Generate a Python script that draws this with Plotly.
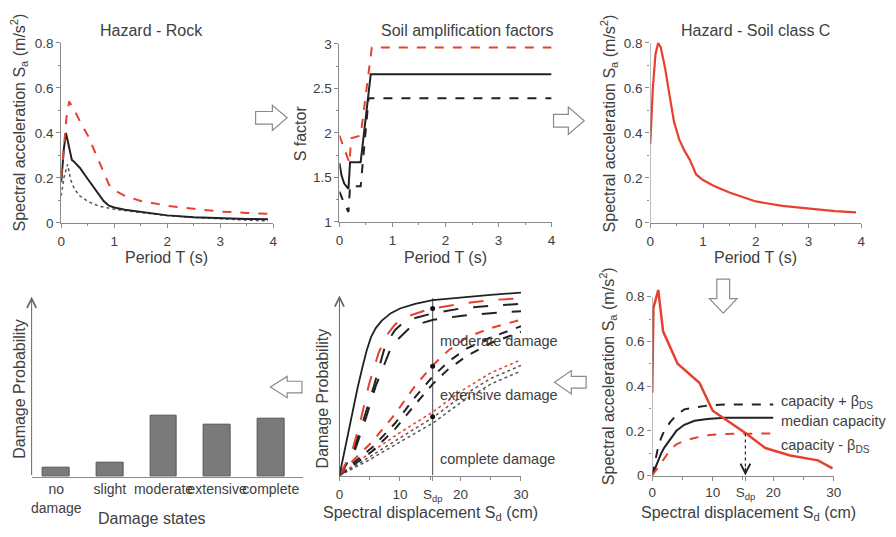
import plotly.graph_objects as go

# ---------------- data ----------------
# Panel 1: Hazard - Rock
T_rock_red = [0, 0.05, 0.1, 0.15, 0.25, 0.4, 0.5, 0.7, 0.9, 1.0, 1.2, 1.5, 2.0, 2.5, 3.0, 3.5, 3.9]
Sa_rock_red = [0.2, 0.33, 0.47, 0.54, 0.50, 0.43, 0.39, 0.28, 0.17, 0.145, 0.12, 0.097, 0.076, 0.062, 0.05, 0.044, 0.04]
T_rock_med = [0, 0.05, 0.09, 0.15, 0.2, 0.25, 0.35, 0.5, 0.65, 0.8, 0.9, 1.0, 1.2, 1.5, 2.0, 2.5, 3.0, 3.5, 3.9]
Sa_rock_med = [0.18, 0.33, 0.40, 0.34, 0.28, 0.27, 0.245, 0.195, 0.144, 0.097, 0.076, 0.068, 0.058, 0.048, 0.033, 0.025, 0.02, 0.017, 0.016]
T_rock_low = [0, 0.05, 0.12, 0.18, 0.25, 0.35, 0.5, 0.7, 1.0, 1.5, 2.0, 2.5, 3.0, 3.5, 3.9]
Sa_rock_low = [0.12, 0.2, 0.26, 0.19, 0.15, 0.12, 0.095, 0.075, 0.06, 0.045, 0.032, 0.024, 0.017, 0.012, 0.008]

# Panel 2: Soil amplification factors
T_s_med = [0, 0.04, 0.09, 0.17, 0.2, 0.4, 0.59, 4.0]
S_med = [1.66, 1.52, 1.43, 1.37, 1.67, 1.67, 2.66, 2.66]
T_s_high = [0, 0.19, 0.22, 0.4, 0.61, 4.0]
S_high = [1.97, 1.66, 1.94, 1.97, 2.96, 2.96]
T_s_low = [0, 0.08, 0.17, 0.2, 0.4, 0.55, 4.0]
S_low = [1.34, 1.22, 1.11, 1.40, 1.40, 2.39, 2.39]

# Panel 3: Hazard - Soil class C
T_soil = [0, 0.05, 0.1, 0.15, 0.2, 0.28, 0.35, 0.45, 0.55, 0.65, 0.75, 0.87, 1.0, 1.2, 1.5, 2.0, 2.5, 3.0, 3.5, 3.9]
Sa_soil = [0.35, 0.6, 0.75, 0.80, 0.78, 0.69, 0.59, 0.45, 0.37, 0.32, 0.28, 0.215, 0.19, 0.165, 0.135, 0.095, 0.075, 0.062, 0.052, 0.046]

# Panel 4: damage states
damage_states = ["no<br>damage", "slight", "moderate", "extensive", "complete"]
damage_prob = [0.05, 0.076, 0.34, 0.29, 0.32]

# Panel 5: fragility curves
sdp = 15.4
sd_slight = [0, 1, 2, 3, 3.8, 4.5, 5.2, 6, 7, 8.5, 10, 12.5, 15.4, 20, 25, 30]
p_slight = [0, 0.16, 0.32, 0.47, 0.58, 0.67, 0.74, 0.79, 0.83, 0.87, 0.895, 0.92, 0.94, 0.955, 0.968, 0.98]
sd_mod_r = [0, 2.1, 3.6, 4.9, 6.5, 8, 9.2, 11, 14.7, 20, 25, 30]
p_mod_r = [0, 0.13, 0.31, 0.49, 0.66, 0.76, 0.81, 0.85, 0.89, 0.92, 0.94, 0.95]
sd_mod_b1 = [0, 2.3, 4.0, 5.7, 7.6, 9.2, 10.9, 15.5, 20, 25, 30]
p_mod_b1 = [0, 0.13, 0.30, 0.48, 0.70, 0.78, 0.83, 0.87, 0.895, 0.91, 0.92]
sd_mod_b2 = [0, 2.5, 4.3, 6.0, 8.7, 11.9, 15.5, 20, 25, 30]
p_mod_b2 = [0, 0.13, 0.30, 0.48, 0.70, 0.80, 0.835, 0.855, 0.87, 0.88]
sd_ext = [0, 1.6, 5.4, 9.2, 12.5, 15.4, 18, 21, 25, 30]
p_ext_r = [0, 0.06, 0.18, 0.33, 0.48, 0.59, 0.67, 0.74, 0.79, 0.835]
p_ext_b1 = [0, 0.05, 0.15, 0.28, 0.42, 0.53, 0.61, 0.68, 0.74, 0.80]
p_ext_b2 = [0, 0.04, 0.13, 0.25, 0.38, 0.49, 0.57, 0.64, 0.71, 0.77]
sd_com = [0, 5, 10, 15.4, 20, 25, 30]
p_com_r = [0, 0.12, 0.23, 0.34, 0.45, 0.55, 0.62]
p_com_b1 = [0, 0.10, 0.20, 0.31, 0.42, 0.52, 0.59]
p_com_b2 = [0, 0.085, 0.18, 0.28, 0.39, 0.49, 0.56]
dots_p = [0.895, 0.585, 0.315]
frag_labels = ["moderate damage", "extensive damage", "complete damage"]
frag_label_y = [0.72, 0.43, 0.09]

# Panel 6: demand vs capacity
demand_sd = [0, 0.2, 1.0, 1.8, 4.2, 7.8, 10, 11.9, 15.4, 18.7, 22.8, 27.4, 29.8]
demand_sa = [0.37, 0.75, 0.83, 0.645, 0.50, 0.415, 0.29, 0.256, 0.19, 0.123, 0.09, 0.068, 0.032]
cap_sd = [0, 0.5, 1, 1.5, 2, 3, 4, 5.3, 7, 9.1, 12, 20]
cap_med = [0, 0.035, 0.07, 0.1, 0.125, 0.165, 0.2, 0.227, 0.245, 0.253, 0.258, 0.258]
cap_plus = [0, 0.07, 0.13, 0.17, 0.2, 0.24, 0.27, 0.296, 0.305, 0.313, 0.318, 0.318]
cap_minus = [0, 0.02, 0.04, 0.06, 0.08, 0.115, 0.14, 0.155, 0.168, 0.18, 0.186, 0.188]
cap_labels = ["capacity + β<sub>DS</sub>", "median capacity", "capacity - β<sub>DS</sub>"]

# ---------------- styling ----------------
W, H = 896, 537
FONT = "Arial, 'Liberation Sans', sans-serif"
TXT = "#404040"
AX = "#8a8a8a"
RED = "#e8402e"
BLK = "#222222"
GRY = "#555555"


def px(x):
    return x / W


def py(y):
    return 1 - y / H


fig = go.Figure()


def line(x, y, ax, color, width, dash="solid"):
    fig.add_trace(go.Scatter(x=x, y=y, mode="lines", xaxis="x" + ax, yaxis="y" + ax,
                             line=dict(color=color, width=width, dash=dash),
                             showlegend=False, hoverinfo="skip"))


# Panel 1
line(T_rock_low, Sa_rock_low, "", GRY, 1.5, "dot")
line(T_rock_med, Sa_rock_med, "", BLK, 2)
line(T_rock_red, Sa_rock_red, "", RED, 2, "dash")
# Panel 2
line(T_s_low, S_low, "2", BLK, 2, "dash")
line(T_s_med, S_med, "2", BLK, 2)
line(T_s_high, S_high, "2", RED, 2, "dash")
# Panel 3
line(T_soil, Sa_soil, "3", RED, 2.2)
# Panel 4 bars
fig.add_trace(go.Bar(x=list(range(len(damage_states))), y=damage_prob, xaxis="x4", yaxis="y4",
                     width=0.5, marker=dict(color="#7a7a7a", line=dict(color="#555", width=1)),
                     showlegend=False, hoverinfo="skip"))
# Panel 5
line([sdp, sdp], [0, 0.95], "5", "#666", 1.2)
line(sd_com, p_com_b2, "5", GRY, 1.5, "dot")
line(sd_com, p_com_b1, "5", GRY, 1.5, "dot")
line(sd_com, p_com_r, "5", RED, 1.5, "dot")
line(sd_ext, p_ext_b2, "5", BLK, 2, "dash")
line(sd_ext, p_ext_b1, "5", BLK, 2, "dash")
line(sd_ext, p_ext_r, "5", RED, 2, "dash")
line(sd_mod_b2, p_mod_b2, "5", BLK, 2, "longdash")
line(sd_mod_b1, p_mod_b1, "5", BLK, 2, "longdash")
line(sd_mod_r, p_mod_r, "5", RED, 2, "longdash")
line(sd_slight, p_slight, "5", BLK, 1.8)
fig.add_trace(go.Scatter(x=[sdp] * len(dots_p), y=dots_p, mode="markers", xaxis="x5", yaxis="y5",
                         marker=dict(color="#111", size=5), showlegend=False, hoverinfo="skip"))
# Panel 6
line(cap_sd, cap_plus, "6", BLK, 2, "dash")
line(cap_sd, cap_med, "6", BLK, 2)
line(cap_sd, cap_minus, "6", RED, 2, "dash")
line(demand_sd, demand_sa, "6", RED, 2.5)
line([sdp, sdp], [cap_minus[-1], 0.01], "6", BLK, 1.2, "dot")

# ---------------- axes ----------------
base = dict(showline=True, linecolor=AX, linewidth=1, ticks="outside", ticklen=4, tickcolor=AX,
            showgrid=False, zeroline=False, tickfont=dict(size=13.5, color=TXT, family=FONT))


def ax(**kw):
    d = dict(base)
    d.update(kw)
    return d


layout = dict(
    width=W, height=H, margin=dict(l=0, r=0, t=0, b=0),
    paper_bgcolor="white", plot_bgcolor="white", font=dict(family=FONT, color=TXT),
    bargap=0,
    xaxis=ax(domain=[px(58), px(273)], range=[0, 4], anchor="y", tickvals=[0, 1, 2, 3, 4],
             ticklabelstandoff=2,
             minor=dict(dtick=0.5, ticks="outside", ticklen=2.5, tickcolor=AX)),
    yaxis=ax(domain=[py(222), py(37)], range=[0, 0.8], anchor="x", tickvals=[0, 0.2, 0.4, 0.6, 0.8],
             ticktext=["0", "0.2", "0.4", "0.6", "0.8"],
             minor=dict(dtick=0.1, ticks="outside", ticklen=2.5, tickcolor=AX)),
    xaxis2=ax(domain=[px(340), px(555)], range=[0, 4], anchor="y2", tickvals=[0, 1, 2, 3, 4],
              ticklabelstandoff=2,
              minor=dict(dtick=0.5, ticks="outside", ticklen=2.5, tickcolor=AX)),
    yaxis2=ax(domain=[py(221), py(38)], range=[1, 3], anchor="x2", tickvals=[1, 1.5, 2, 2.5, 3],
              minor=dict(dtick=0.25, ticks="outside", ticklen=2.5, tickcolor=AX)),
    xaxis3=ax(domain=[px(655), px(869)], range=[0, 4], anchor="y3", tickvals=[0, 1, 2, 3, 4],
              ticklabelstandoff=2,
              minor=dict(dtick=0.5, ticks="outside", ticklen=2.5, tickcolor=AX)),
    yaxis3=ax(domain=[py(222), py(222 - 0.82 * 231.25)], range=[0, 0.82], anchor="x3", showline=False,
              tickvals=[0, 0.2, 0.4, 0.6, 0.8], ticktext=["0", "0.2", "0.4", "0.6", "0.8"],
              minor=dict(tickvals=[0.1, 0.3, 0.5, 0.7], ticks="outside", ticklen=2.5, tickcolor=AX)),
    xaxis4=ax(domain=[px(28), px(303)], range=[-0.46, 4.6], anchor="y4", ticks="", tickangle=0,
              tickvals=list(range(len(damage_states))), ticktext=damage_states,
              tickfont=dict(size=14, color=TXT, family=FONT)),
    yaxis4=ax(domain=[py(483), py(298)], range=[0, 1], anchor="x4", showline=False, ticks="",
              showticklabels=False),
    xaxis5=ax(domain=[px(340), px(524)], range=[0, 30], anchor="y5", tickvals=[0, 10, sdp, 20, 30],
              ticktext=["0", "10", "S<sub>dp</sub>", "20", "30"], tickangle=0, ticklabelstandoff=2,
              minor=dict(dtick=5, ticks="outside", ticklen=3, tickcolor=AX)),
    yaxis5=ax(domain=[py(482), py(290)], range=[0, 1], anchor="x5", showline=False, ticks="",
              showticklabels=False),
    xaxis6=ax(domain=[px(657), px(841)], range=[0, 30], anchor="y6", tickvals=[0, 10, sdp, 20, 30],
              ticktext=["0", "10", "S<sub>dp</sub>", "20", "30"], tickangle=0,
              minor=dict(dtick=5, ticks="outside", ticklen=3, tickcolor=AX)),
    yaxis6=ax(domain=[py(482), py(482 - 0.85 * 230)], range=[0, 0.85], anchor="x6", showline=False,
              tickvals=[0, 0.2, 0.4, 0.6, 0.8], ticktext=["0", "0.2", "0.4", "0.6", "0.8"],
              minor=dict(tickvals=[0.1, 0.3, 0.5, 0.7], ticks="outside", ticklen=2.5, tickcolor=AX)),
)
fig.update_layout(**layout)

# manual y-axis lines
fig.add_shape(type="line", xref="x3", yref="y3", x0=0, x1=0, y0=0, y1=0.8, line=dict(color=AX, width=1))
fig.add_shape(type="line", xref="x6", yref="y6", x0=0, x1=0, y0=0, y1=0.8, line=dict(color=AX, width=1))

ann = []


def text(x, y, s, size=16, angle=0, xanchor="center", xref="paper", yref="paper"):
    ann.append(dict(x=x, y=y, xref=xref, yref=yref, text=s, showarrow=False, textangle=angle,
                    xanchor=xanchor, yanchor="middle", font=dict(size=size, color=TXT, family=FONT)))


# titles
text(px(150), py(24), "Hazard - Rock")
text(px(470), py(24), "Soil amplification factors")
text(px(762), py(24), "Hazard - Soil class C")
# axis titles
SA = "Spectral acceleration S<sub>a</sub> (m/s<sup>2</sup>)"
SD = "Spectral displacement S<sub>d</sub> (cm)"
text(px(15), py(119), SA, angle=-90)
text(px(165), py(258), "Period T (s)")
text(px(300), py(130), "S factor", angle=-90)
text(px(447), py(258), "Period T (s)")
text(px(613), py(120), SA, angle=-90)
text(px(762), py(258), "Period T (s)")
text(px(15), py(393), "Damage Probability", angle=-90)
text(px(150), py(526), "Damage states")
text(px(323), py(403), "Damage Probability", angle=-90)
text(px(432), py(521), SD)
text(px(613), py(380), SA, angle=-90)
text(px(755), py(521), SD)

# fragility labels
for lab, yv in zip(frag_labels, frag_label_y):
    text(16.3, yv, lab, size=14.5, xanchor="left", xref="x5", yref="y5")
# capacity labels
for lab, ypx in zip(cap_labels, [406, 426, 452]):
    text(px(786), py(ypx), lab, size=14.5, xanchor="left")

# arrow-headed axes
ann.append(dict(x=0, y=0.965, ax=0, ay=0, xref="x5", yref="y5", axref="x5", ayref="y5", text="",
                showarrow=True, arrowhead=5, arrowsize=1.8, arrowwidth=1, arrowcolor="#666"))
ann.append(dict(x=-0.46, y=1.0, ax=-0.46, ay=0, xref="x4", yref="y4", axref="x4", ayref="y4", text="",
                showarrow=True, arrowhead=5, arrowsize=1.8, arrowwidth=1, arrowcolor="#666"))
ann.append(dict(x=sdp, y=0.0, ax=sdp, ay=0.04, xref="x6", yref="y6", axref="x6", ayref="y6", text="",
                showarrow=True, arrowhead=5, arrowsize=1.6, arrowwidth=1.2, arrowcolor="#222"))
fig.update_layout(annotations=ann)


# block arrows
def block_arrow(pts):
    p = "M " + " L ".join(f"{px(a):.5f},{py(b):.5f}" for a, b in pts) + " Z"
    fig.add_shape(type="path", xref="paper", yref="paper", path=p,
                  line=dict(color="#8a8a8a", width=1.2), fillcolor="white")


def right_arrow(x0, x1, xb, yc, hs, hh):
    block_arrow([(x0, yc - hs), (xb, yc - hs), (xb, yc - hh), (x1, yc), (xb, yc + hh), (xb, yc + hs), (x0, yc + hs)])


def left_arrow(x0, x1, xb, yc, hs, hh):
    block_arrow([(x1, yc - hs), (xb, yc - hs), (xb, yc - hh), (x0, yc), (xb, yc + hh), (xb, yc + hs), (x1, yc + hs)])


right_arrow(255, 287, 272, 114, 6.5, 13)
right_arrow(557, 588, 572, 117, 6.5, 14)
left_arrow(270, 302, 287, 391, 6, 11)
left_arrow(558, 590, 575, 386, 6, 12)
# down arrow
block_arrow([(722.5, 280), (735.5, 280), (735.5, 300), (743, 300), (729, 315), (715, 300), (722.5, 300)])

fig.write_html("out.html")
